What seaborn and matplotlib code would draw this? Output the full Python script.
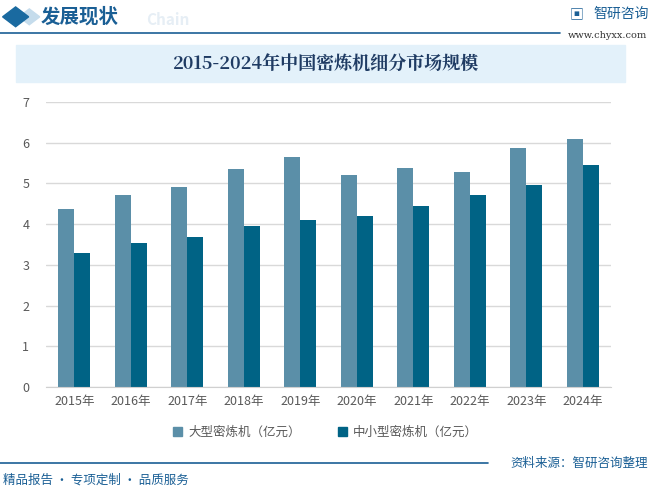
import seaborn as sns
import matplotlib.pyplot as plt
import matplotlib.patches as mpatches
import pandas as pd

years = ['2015年', '2016年', '2017年', '2018年', '2019年',
         '2020年', '2021年', '2022年', '2023年', '2024年']
large = [4.37, 4.72, 4.92, 5.36, 5.65, 5.21, 5.38, 5.28, 5.87, 6.10]
small = [3.29, 3.54, 3.69, 3.95, 4.10, 4.20, 4.45, 4.72, 4.96, 5.46]
series_names = ['大型密炼机（亿元）', '中小型密炼机（亿元）']
colors = ['#5b8fa8', '#006385']

df = pd.DataFrame({
    'year': years * 2,
    'value': large + small,
    'series': [series_names[0]] * len(years) + [series_names[1]] * len(years),
})

sns.set_style('white')
plt.rcParams['font.family'] = ['Noto Sans CJK SC', 'DejaVu Sans']

fig = plt.figure(figsize=(6.51, 4.95), dpi=100)
ax = fig.add_axes([0.0707, 0.218, 0.868, 0.576])

sns.barplot(data=df, x='year', y='value', hue='series', palette=colors,
            width=0.57, gap=0, saturation=1, linewidth=0, ax=ax, legend=False)

ax.set_ylim(0, 7)
ax.set_xlim(-0.5, len(years) - 0.5)
ax.set_yticks(range(0, 8))
ax.yaxis.grid(True, color='#d9d9d9', lw=1)
ax.set_axisbelow(True)
for s in ['top', 'right', 'left']:
    ax.spines[s].set_visible(False)
ax.spines['bottom'].set_color('#d0d0d0')
ax.set_xlabel('')
ax.set_ylabel('')
ax.tick_params(axis='y', length=0, labelsize=9, labelcolor='#595959', pad=12)
ax.tick_params(axis='x', length=0, labelsize=9, labelcolor='#595959', pad=6)
ax.set_xticks([i - 0.5 for i in range(len(years) + 1)], minor=True)
ax.tick_params(axis='x', which='minor', length=4, color='#d0d0d0')

# legend
handles = [mpatches.Patch(color=c, label=n) for c, n in zip(colors, series_names)]
fig.legend(handles=handles, loc='center', bbox_to_anchor=(0.5, 0.127), ncol=2,
           frameon=False, fontsize=9, handlelength=0.7, handleheight=0.7,
           columnspacing=3, handletextpad=0.5, labelcolor='#595959')

# header
fig.patches.append(mpatches.RegularPolygon((0.024, 0.966), 4, radius=0.02,
                                           transform=fig.transFigure, color='#1a6aa0'))
fig.patches.append(mpatches.RegularPolygon((0.045, 0.966), 4, radius=0.016,
                                           transform=fig.transFigure, color='#c5dcec',
                                           zorder=0))
fig.text(0.063, 0.966, '发展现状', fontsize=14, fontweight='bold', color='#1a5f95',
         va='center')
fig.text(0.225, 0.960, 'Chain', fontsize=11, fontweight='bold', color='#e6eef5',
         va='center')
fig.add_artist(plt.Line2D([0.0, 0.86], [0.933, 0.933], color='#1a5f95', lw=1.2,
                          transform=fig.transFigure))
fig.text(0.912, 0.972, '智研咨询', fontsize=10, color='#1a5f95', va='center')
fig.text(0.875, 0.972, '▣', fontsize=10, color='#1a5f95', va='center')
fig.text(0.872, 0.928, 'www.chyxx.com', fontsize=7, color='#333333', va='center',
         family=['DejaVu Serif'])

# title box
fig.patches.append(mpatches.Rectangle((0.025, 0.834), 0.935, 0.075,
                                      transform=fig.transFigure, color='#e3f1fa', zorder=0))
fig.text(0.5, 0.871, '2015-2024年中国密炼机细分市场规模', fontsize=13, fontweight='bold',
         color='#1f3b63', ha='center', va='center',
         family=['Noto Serif CJK SC', 'Noto Sans CJK SC', 'DejaVu Sans'])

# footer
fig.add_artist(plt.Line2D([0.0, 0.75], [0.065, 0.065], color='#1a5f95', lw=1.2,
                          transform=fig.transFigure))
fig.text(0.005, 0.030, '精品报告 · 专项定制 · 品质服务', fontsize=9, color='#1a5f95',
         va='center')
fig.text(0.995, 0.063, '资料来源：智研咨询整理', fontsize=9, color='#1a5f95',
         va='center', ha='right')

fig.savefig('out.png', dpi=100)
